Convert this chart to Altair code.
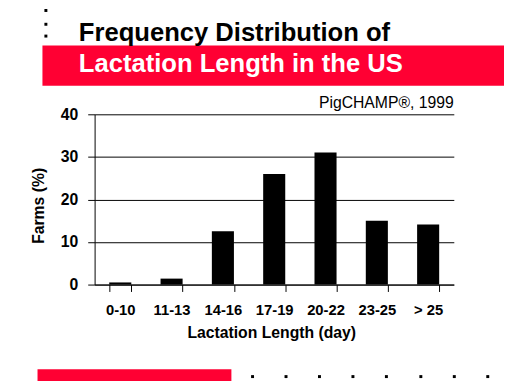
import altair as alt
import pandas as pd

# ---- data ----
categories = ["0-10", "11-13", "14-16", "17-19", "20-22", "23-25", "> 25"]
farms_pct = [0.5, 1.4, 12.5, 26, 31, 15, 14.1]
y_ticks = [0, 10, 20, 30, 40]

title_line1 = "Frequency Distribution of"
title_line2 = "Lactation Length in the US"
source_note = "PigCHAMP®, 1999"
x_title = "Lactation Length (day)"
y_title = "Farms (%)"

df = pd.DataFrame({"cat": categories, "val": farms_pct})
one = pd.DataFrame({"k": [0]})

FONT = "Liberation Sans"
RED = "#FF0033"
OX, OY = 96, 113  # page position of plot origin
W, H = 365, 173


def px(x):
    return x - OX


def py(y):
    return y - OY


bars = alt.Chart(df).mark_bar(color="black").encode(
    x=alt.X(
        "cat:N",
        sort=categories,
        scale=alt.Scale(paddingInner=0.57, paddingOuter=0.285),
        axis=alt.Axis(
            title=None, labelAngle=0, labelFont=FONT, labelFontSize=15,
            labelFontWeight="bold", labelColor="black", domainColor="black",
            tickColor="black", tickSize=7, tickBand="extent", labelPadding=11,
            grid=False,
        ),
    ),
    y=alt.Y(
        "val:Q",
        scale=alt.Scale(domain=[0, 40], nice=False),
        axis=alt.Axis(
            values=y_ticks, title=None, grid=True, gridColor="black",
            gridOpacity=1, domainColor="black", tickColor="black", tickSize=7,
            labelPadding=10, labelFont=FONT, labelFontSize=16,
            labelFontWeight="bold", labelColor="black",
        ),
    ),
)


def rect(x1, y1, x2, y2, color):
    return alt.Chart(one).mark_rect(color=color).encode(
        x=alt.value(px(x1)), x2=alt.value(px(x2)),
        y=alt.value(py(y1)), y2=alt.value(py(y2)),
    )


def text(s, x, y, size, color="black", weight="bold", align="left", angle=0, baseline="alphabetic"):
    return alt.Chart(one).mark_text(
        text=s, font=FONT, fontSize=size, fontWeight=weight, color=color,
        align=align, baseline=baseline, angle=angle,
    ).encode(x=alt.value(px(x)), y=alt.value(py(y)))


layers = [
    rect(43, 43, 512, 84, RED),
    rect(38, 372, 235, 384, RED),
    text(title_line1, 80, 38, 26),
    text(title_line2, 80, 70, 26, color="white"),
    text(source_note, 461, 107, 16, weight="normal", align="right"),
    text(x_title, 276, 340, 16, align="center"),
    text(y_title, 40, 206, 16, align="center", angle=270, baseline="middle"),
]
for dy in [7, 21, 33]:
    layers.append(rect(45, dy - 1, 48, dy + 2, "black"))
for dx in [256, 290, 324, 358, 392, 427, 461, 495]:
    layers.append(rect(dx - 1, 378, dx + 2, 381, "black"))

chart = alt.layer(bars, *layers).properties(
    width=W, height=H,
    autosize=alt.AutoSizeParams(type="none"),
    padding={"left": OX - 8, "top": OY - 8, "right": 504 - (OX - 8) - W, "bottom": 376 - (OY - 8) - H},
    background="white",
).configure_view(stroke=None)

chart.save("out.html", embed_options={"renderer": "svg", "actions": False})
